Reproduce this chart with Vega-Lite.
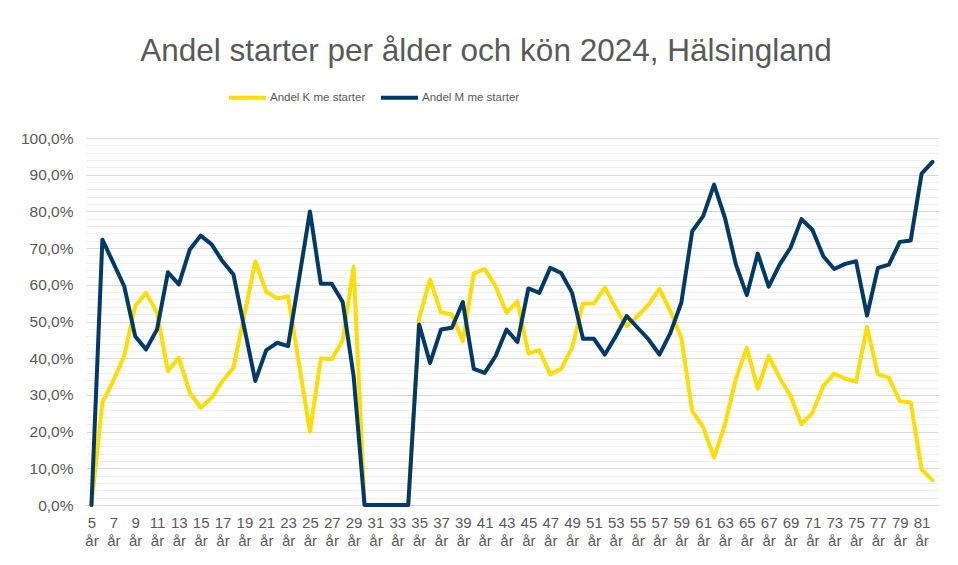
{
  "$schema": "https://vega.github.io/schema/vega-lite/v6.json",
  "width": 852,
  "height": 367,
  "autosize": {"type": "none"},
  "padding": {"left": 86, "top": 138, "right": 20, "bottom": 60},
  "background": "white",
  "config": {
    "font": "Liberation Sans",
    "view": {"stroke": null},
    "locale": {"number": {"decimal": ",", "thousands": "\u00a0", "grouping": [3], "currency": ["", " kr"], "percent": "%"}}
  },
  "title": {
    "text": "Andel starter per ålder och kön 2024, Hälsingland",
    "fontSize": 31.5,
    "fontWeight": "normal",
    "color": "#595959",
    "font": "Liberation Sans",
    "anchor": "middle",
    "frame": "group",
    "dx": -26,
    "dy": -6
  },
  "data": {"values": [
    {"a":5,"s":"Andel K me starter","v":0},{"a":5,"s":"Andel M me starter","v":0},
    {"a":6,"s":"Andel K me starter","v":0.279},{"a":6,"s":"Andel M me starter","v":0.723},
    {"a":7,"s":"Andel K me starter","v":0.338},{"a":7,"s":"Andel M me starter","v":0.66},
    {"a":8,"s":"Andel K me starter","v":0.406},{"a":8,"s":"Andel M me starter","v":0.596},
    {"a":9,"s":"Andel K me starter","v":0.542},{"a":9,"s":"Andel M me starter","v":0.46},
    {"a":10,"s":"Andel K me starter","v":0.578},{"a":10,"s":"Andel M me starter","v":0.424},
    {"a":11,"s":"Andel K me starter","v":0.524},{"a":11,"s":"Andel M me starter","v":0.478},
    {"a":12,"s":"Andel K me starter","v":0.365},{"a":12,"s":"Andel M me starter","v":0.634},
    {"a":13,"s":"Andel K me starter","v":0.401},{"a":13,"s":"Andel M me starter","v":0.601},
    {"a":14,"s":"Andel K me starter","v":0.306},{"a":14,"s":"Andel M me starter","v":0.696},
    {"a":15,"s":"Andel K me starter","v":0.265},{"a":15,"s":"Andel M me starter","v":0.734},
    {"a":16,"s":"Andel K me starter","v":0.292},{"a":16,"s":"Andel M me starter","v":0.71},
    {"a":17,"s":"Andel K me starter","v":0.338},{"a":17,"s":"Andel M me starter","v":0.664},
    {"a":18,"s":"Andel K me starter","v":0.374},{"a":18,"s":"Andel M me starter","v":0.628},
    {"a":19,"s":"Andel K me starter","v":0.518},{"a":19,"s":"Andel M me starter","v":0.482},
    {"a":20,"s":"Andel K me starter","v":0.664},{"a":20,"s":"Andel M me starter","v":0.338},
    {"a":21,"s":"Andel K me starter","v":0.581},{"a":21,"s":"Andel M me starter","v":0.422},
    {"a":22,"s":"Andel K me starter","v":0.563},{"a":22,"s":"Andel M me starter","v":0.442},
    {"a":23,"s":"Andel K me starter","v":0.569},{"a":23,"s":"Andel M me starter","v":0.433},
    {"a":24,"s":"Andel K me starter","v":0.385},{"a":24,"s":"Andel M me starter","v":0.615},
    {"a":25,"s":"Andel K me starter","v":0.2},{"a":25,"s":"Andel M me starter","v":0.8},
    {"a":26,"s":"Andel K me starter","v":0.399},{"a":26,"s":"Andel M me starter","v":0.603},
    {"a":27,"s":"Andel K me starter","v":0.397},{"a":27,"s":"Andel M me starter","v":0.603},
    {"a":28,"s":"Andel K me starter","v":0.449},{"a":28,"s":"Andel M me starter","v":0.553},
    {"a":29,"s":"Andel K me starter","v":0.649},{"a":29,"s":"Andel M me starter","v":0.351},
    {"a":30,"s":"Andel K me starter","v":0},{"a":30,"s":"Andel M me starter","v":0},
    {"a":31,"s":"Andel K me starter","v":0},{"a":31,"s":"Andel M me starter","v":0},
    {"a":32,"s":"Andel K me starter","v":0},{"a":32,"s":"Andel M me starter","v":0},
    {"a":33,"s":"Andel K me starter","v":0},{"a":33,"s":"Andel M me starter","v":0},
    {"a":34,"s":"Andel K me starter","v":0},{"a":34,"s":"Andel M me starter","v":0},
    {"a":35,"s":"Andel K me starter","v":0.51},{"a":35,"s":"Andel M me starter","v":0.492},
    {"a":36,"s":"Andel K me starter","v":0.614},{"a":36,"s":"Andel M me starter","v":0.387},
    {"a":37,"s":"Andel K me starter","v":0.525},{"a":37,"s":"Andel M me starter","v":0.478},
    {"a":38,"s":"Andel K me starter","v":0.519},{"a":38,"s":"Andel M me starter","v":0.483},
    {"a":39,"s":"Andel K me starter","v":0.446},{"a":39,"s":"Andel M me starter","v":0.553},
    {"a":40,"s":"Andel K me starter","v":0.631},{"a":40,"s":"Andel M me starter","v":0.371},
    {"a":41,"s":"Andel K me starter","v":0.643},{"a":41,"s":"Andel M me starter","v":0.36},
    {"a":42,"s":"Andel K me starter","v":0.596},{"a":42,"s":"Andel M me starter","v":0.406},
    {"a":43,"s":"Andel K me starter","v":0.524},{"a":43,"s":"Andel M me starter","v":0.478},
    {"a":44,"s":"Andel K me starter","v":0.555},{"a":44,"s":"Andel M me starter","v":0.444},
    {"a":45,"s":"Andel K me starter","v":0.413},{"a":45,"s":"Andel M me starter","v":0.59},
    {"a":46,"s":"Andel K me starter","v":0.422},{"a":46,"s":"Andel M me starter","v":0.578},
    {"a":47,"s":"Andel K me starter","v":0.356},{"a":47,"s":"Andel M me starter","v":0.646},
    {"a":48,"s":"Andel K me starter","v":0.371},{"a":48,"s":"Andel M me starter","v":0.632},
    {"a":49,"s":"Andel K me starter","v":0.428},{"a":49,"s":"Andel M me starter","v":0.578},
    {"a":50,"s":"Andel K me starter","v":0.549},{"a":50,"s":"Andel M me starter","v":0.453},
    {"a":51,"s":"Andel K me starter","v":0.549},{"a":51,"s":"Andel M me starter","v":0.453},
    {"a":52,"s":"Andel K me starter","v":0.592},{"a":52,"s":"Andel M me starter","v":0.41},
    {"a":53,"s":"Andel K me starter","v":0.537},{"a":53,"s":"Andel M me starter","v":0.46},
    {"a":54,"s":"Andel K me starter","v":0.487},{"a":54,"s":"Andel M me starter","v":0.515},
    {"a":55,"s":"Andel K me starter","v":0.515},{"a":55,"s":"Andel M me starter","v":0.483},
    {"a":56,"s":"Andel K me starter","v":0.546},{"a":56,"s":"Andel M me starter","v":0.451},
    {"a":57,"s":"Andel K me starter","v":0.589},{"a":57,"s":"Andel M me starter","v":0.41},
    {"a":58,"s":"Andel K me starter","v":0.528},{"a":58,"s":"Andel M me starter","v":0.469},
    {"a":59,"s":"Andel K me starter","v":0.456},{"a":59,"s":"Andel M me starter","v":0.551},
    {"a":60,"s":"Andel K me starter","v":0.256},{"a":60,"s":"Andel M me starter","v":0.746},
    {"a":61,"s":"Andel K me starter","v":0.212},{"a":61,"s":"Andel M me starter","v":0.787},
    {"a":62,"s":"Andel K me starter","v":0.129},{"a":62,"s":"Andel M me starter","v":0.873},
    {"a":63,"s":"Andel K me starter","v":0.22},{"a":63,"s":"Andel M me starter","v":0.782},
    {"a":64,"s":"Andel K me starter","v":0.344},{"a":64,"s":"Andel M me starter","v":0.655},
    {"a":65,"s":"Andel K me starter","v":0.428},{"a":65,"s":"Andel M me starter","v":0.572},
    {"a":66,"s":"Andel K me starter","v":0.317},{"a":66,"s":"Andel M me starter","v":0.685},
    {"a":67,"s":"Andel K me starter","v":0.406},{"a":67,"s":"Andel M me starter","v":0.595},
    {"a":68,"s":"Andel K me starter","v":0.347},{"a":68,"s":"Andel M me starter","v":0.655},
    {"a":69,"s":"Andel K me starter","v":0.297},{"a":69,"s":"Andel M me starter","v":0.701},
    {"a":70,"s":"Andel K me starter","v":0.22},{"a":70,"s":"Andel M me starter","v":0.779},
    {"a":71,"s":"Andel K me starter","v":0.251},{"a":71,"s":"Andel M me starter","v":0.75},
    {"a":72,"s":"Andel K me starter","v":0.324},{"a":72,"s":"Andel M me starter","v":0.678},
    {"a":73,"s":"Andel K me starter","v":0.358},{"a":73,"s":"Andel M me starter","v":0.643},
    {"a":74,"s":"Andel K me starter","v":0.344},{"a":74,"s":"Andel M me starter","v":0.657},
    {"a":75,"s":"Andel K me starter","v":0.336},{"a":75,"s":"Andel M me starter","v":0.664},
    {"a":76,"s":"Andel K me starter","v":0.485},{"a":76,"s":"Andel M me starter","v":0.516},
    {"a":77,"s":"Andel K me starter","v":0.356},{"a":77,"s":"Andel M me starter","v":0.646},
    {"a":78,"s":"Andel K me starter","v":0.347},{"a":78,"s":"Andel M me starter","v":0.655},
    {"a":79,"s":"Andel K me starter","v":0.283},{"a":79,"s":"Andel M me starter","v":0.717},
    {"a":80,"s":"Andel K me starter","v":0.28},{"a":80,"s":"Andel M me starter","v":0.721},
    {"a":81,"s":"Andel K me starter","v":0.097},{"a":81,"s":"Andel M me starter","v":0.903},
    {"a":82,"s":"Andel K me starter","v":0.067},{"a":82,"s":"Andel M me starter","v":0.935}
  ]},
  "mark": {"type": "line", "strokeWidth": 4, "strokeJoin": "round", "strokeCap": "round"},
  "encoding": {
    "x": {
      "field": "a",
      "type": "ordinal",
      "sort": "ascending",
      "scale": {"type": "point", "padding": 0.5},
      "axis": {
        "title": null,
        "labelAngle": 0,
        "labelOverlap": false,
        "labelExpr": "datum.value % 2 == 1 ? [datum.value + '', 'år'] : ''",
        "labelFontSize": 15,
        "labelColor": "#595959",
        "labelLineHeight": 18,
        "labelPadding": 10,
        "labelBaseline": "top",
        "ticks": false,
        "domainColor": "#d9d9d9",
        "grid": false
      }
    },
    "y": {
      "field": "v",
      "type": "quantitative",
      "scale": {"domain": [0, 1], "nice": false},
      "axis": {
        "title": null,
        "values": [0,0.02,0.04,0.06,0.08,0.1,0.12,0.14,0.16,0.18,0.2,0.22,0.24,0.26,0.28,0.3,0.32,0.34,0.36,0.38,0.4,0.42,0.44,0.46,0.48,0.5,0.52,0.54,0.56,0.58,0.6,0.62,0.64,0.66,0.68,0.7,0.72,0.74,0.76,0.78,0.8,0.82,0.84,0.86,0.88,0.9,0.92,0.94,0.96,0.98,1],
        "format": ".1%",
        "labelExpr": "round(datum.value * 100) % 10 == 0 ? datum.label : ''",
        "labelFontSize": 15.5,
        "labelColor": "#595959",
        "labelPadding": 13,
        "ticks": false,
        "domain": false,
        "grid": true,
        "gridWidth": 1,
        "gridColor": {"condition": {"test": "round(datum.value * 100) % 10 == 0", "value": "#d9d9d9"}, "value": "#f0f0f0"}
      }
    },
    "color": {
      "field": "s",
      "type": "nominal",
      "scale": {"domain": ["Andel K me starter", "Andel M me starter"], "range": ["#FFDD00", "#003A6B"]},
      "legend": {
        "title": null,
        "orient": "none",
        "direction": "horizontal",
        "legendX": 141,
        "legendY": -61,
        "symbolType": "stroke",
        "symbolSize": 1369,
        "symbolStrokeWidth": 4,
        "labelFontSize": 11.5,
        "labelColor": "#595959",
        "labelOffset": 2,
        "columnPadding": 7
      }
    }
  }
}
